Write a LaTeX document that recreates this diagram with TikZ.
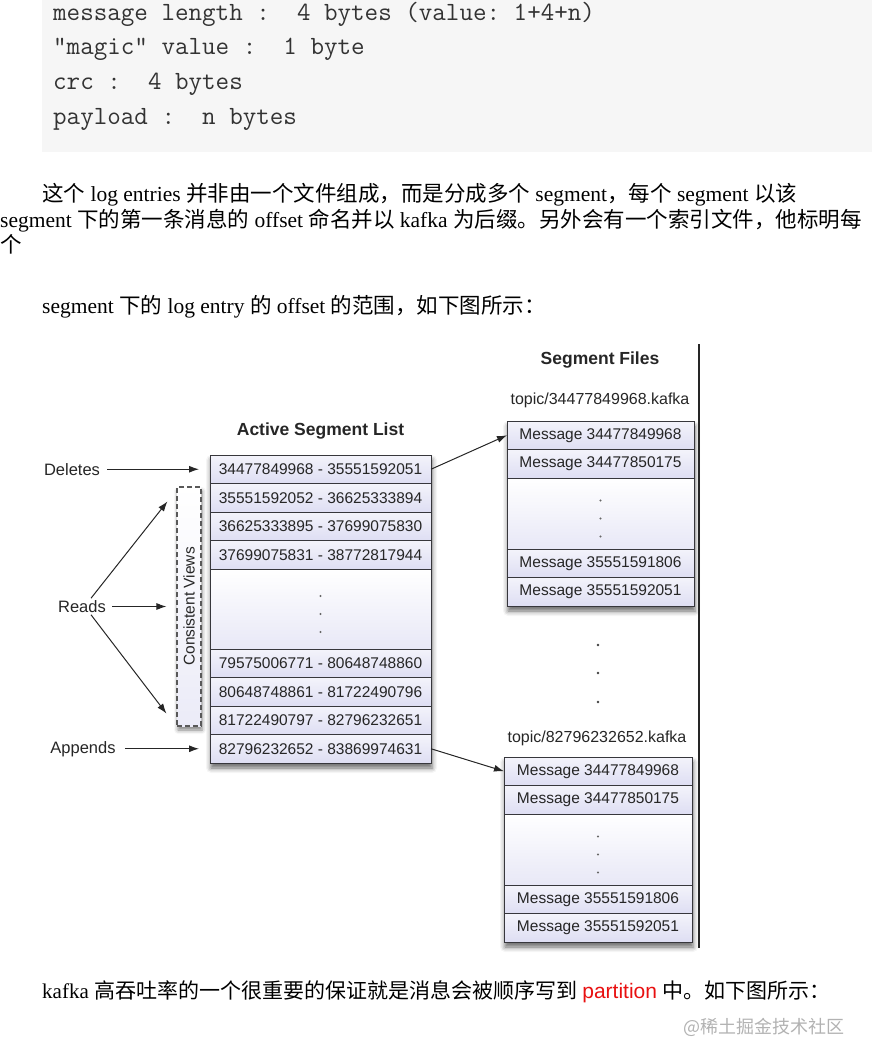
\documentclass[tikz,border=0pt]{standalone}
\usepackage{fontspec}
\setmainfont{Liberation Serif}
\setsansfont{Liberation Sans}
\newfontfamily\cjk{Noto Sans CJK SC}
\usepackage{xcolor}
\usetikzlibrary{arrows.meta,positioning,fit,backgrounds,shadows.blur}
\definecolor{codebg}{RGB}{246,246,246}
\definecolor{seglav}{RGB}{222,222,243}
\definecolor{segline}{RGB}{55,55,60}
\definecolor{linkred}{RGB}{232,16,16}
\definecolor{markgray}{RGB}{178,178,178}
\newcommand{\zh}[1]{{\cjk #1}}
\tikzset{
  segrow/.style={rectangle, draw=segline, line width=0.9pt, top color=seglav!35, bottom color=seglav, minimum width=221pt, minimum height=28.5pt, inner sep=0pt, outer sep=0pt, font=\fontsize{15.5}{16}\sffamily, text=black!85},
  segdots/.style={segrow, top color=white, bottom color=seglav!70, minimum height=80pt},
  filerow/.style={segrow, minimum width=187pt},
  filedots/.style={segdots, minimum width=187pt, minimum height=71pt},
  boxshade/.style={fill=white, inner sep=0pt, blur shadow={shadow xshift=1pt, shadow yshift=-5pt, shadow blur radius=5pt, shadow opacity=60}},
  viewsbox/.style={draw=black!65, dash pattern=on 5pt off 3pt, line width=1.1pt, minimum width=24pt, minimum height=239pt, inner sep=0pt, top color=white, bottom color=seglav!60, blur shadow={shadow xshift=1pt, shadow yshift=-4pt, shadow blur radius=4pt, shadow opacity=50}},
  lbl/.style={font=\fontsize{16.5}{17}\sffamily, text=black!85, inner sep=2pt},
  ttl/.style={font=\fontsize{17.5}{18}\sffamily\bfseries, text=black!85},
  fname/.style={font=\fontsize{16}{17}\sffamily, text=black!85},
  dotmark/.style={fill=black!60},
  parrow/.style={-{Latex[length=10pt,width=7pt]}, line width=1pt, black!85},
  para/.style={anchor=base west, inner sep=0pt, font=\fontsize{21.5}{21.5}\selectfont},
  codeline/.style={anchor=base west, inner sep=0pt, font=\fontsize{26.3}{27}\ttfamily\frenchspacing, text=black!80}
}

\begin{document}
\begin{tikzpicture}[x=1pt, y=-1pt]
\useasboundingbox (0,0) rectangle (872,1064);
\fill[codebg] (42,0) rectangle (872,152);
\node[codeline] (code1) at (53,21) {message length :\ \ 4 bytes (value: 1+4+n)};
\node[codeline] (code2) at (53,55) {"magic" value :\ \ 1 byte};
\node[codeline] (code3) at (53,90) {crc :\ \ 4 bytes};
\node[codeline] (code4) at (53,125) {payload :\ \ n bytes};

\node[para] (par1) at (42,202) {\zh{这个} log entries \zh{并非由一个文件组成，而是分成多个} segment\zh{，每个} segment \zh{以该}};
\node[para] (par2) at (0,228) {segment \zh{下的第一条消息的} offset \zh{命名并以} kafka \zh{为后缀。另外会有一个索引文件，他标明每}};
\node[para] (par3) at (0,253) {\zh{个}};
\node[para] (par4) at (42,313) {segment \zh{下的} log entry \zh{的} offset \zh{的范围，如下图所示：}};

\node[ttl] (acttitle) at (320.5,431) {Active Segment List};
\node[segrow] (act1) at (320.5,469.25) {34477849968 - 35551592051};
\node[segrow, below=0pt of act1] (act2) {35551592052 - 36625333894};
\node[segrow, below=0pt of act2] (act3) {36625333895 - 37699075830};
\node[segrow, below=0pt of act3] (act4) {37699075831 - 38772817944};
\node[segdots, below=0pt of act4] (actdots) {};
\node[segrow, below=0pt of actdots] (act5) {79575006771 - 80648748860};
\node[segrow, below=0pt of act5] (act6) {80648748861 - 81722490796};
\node[segrow, below=0pt of act6] (act7) {81722490797 - 82796232651};
\node[segrow, below=0pt of act7] (act8) {82796232652 - 83869974631};

\node[viewsbox, label={[rotate=90, font=\fontsize{15.5}{16}\sffamily, text=black!85]center:Consistent Views}] (views) at (189,606.5) {};

\node[lbl] (deletes) at (72,469.25) {Deletes};
\node[lbl] (reads) at (82,606.5) {Reads};
\node[lbl] (appends) at (83,748.75) {Appends};
\coordinate (readup) at ([xshift=-9pt, yshift=-15pt]views.north west);
\coordinate (readdown) at ([xshift=-10pt, yshift=13pt]views.south west);

\node[ttl] (filestitle) at (600,360) {Segment Files};
\node[fname] (topic1) at (600,400) {topic/34477849968.kafka};
\node[filerow] (fa1) at (600.5,435.25) {Message 34477849968};
\node[filerow, below=0pt of fa1] (fa2) {Message 34477850175};
\node[filedots, below=0pt of fa2] (fadots) {};
\node[filerow, below=0pt of fadots] (fa3) {Message 35551591806};
\node[filerow, below=0pt of fa3] (fa4) {Message 35551592051};

\node[fname] (topic2) at (597,738) {topic/82796232652.kafka};
\node[filerow, minimum width=188pt] (fb1) at (598,771.25) {Message 34477849968};
\node[filerow, minimum width=188pt, below=0pt of fb1] (fb2) {Message 34477850175};
\node[filedots, minimum width=188pt, below=0pt of fb2] (fbdots) {};
\node[filerow, minimum width=188pt, below=0pt of fbdots] (fb3) {Message 35551591806};
\node[filerow, minimum width=188pt, below=0pt of fb3] (fb4) {Message 35551592051};

\begin{scope}[on background layer]
\node[boxshade, fit=(act1)(act8)] {};
\node[boxshade, fit=(fa1)(fa4)] {};
\node[boxshade, fit=(fb1)(fb4)] {};
\end{scope}

\foreach \d in {13,-5,-23} {
  \fill[dotmark] ([yshift=\d pt]actdots.center) circle (1.1pt);
  \fill[dotmark] ([yshift=\d pt]fadots.center) circle (1.1pt);
  \fill[dotmark] ([yshift=\d pt]fbdots.center) circle (1.1pt);
}
\foreach \y in {645,673,702}
  \fill[black!75] (598,\y) circle (1.4pt);

\draw[line width=1.2pt, black!85] (699,344) -- (699,948);

\draw[parrow, shorten <=5pt, shorten >=11pt] (deletes) -- (act1);
\draw[parrow, shorten <=4pt, shorten >=10pt] (reads) -- (views);
\draw[parrow] ([xshift=9pt]reads.north) -- (readup);
\draw[parrow] ([xshift=9pt]reads.south) -- (readdown);
\draw[parrow, shorten <=7pt, shorten >=11pt] (appends) -- (act8);
\draw[parrow] (act1.east) -- (fa1.west);
\draw[parrow] (act8.east) -- (fb1.west);

\node[para, font=\fontsize{21}{21}\selectfont] (par5) at (42,998) {kafka \zh{高吞吐率的一个很重要的保证就是消息会被顺序写到} {\sffamily\color{linkred}partition} \zh{中。如下图所示：}};
\node[anchor=base west, inner sep=0pt, font=\cjk\fontsize{18}{18}\selectfont, text=markgray] (mark) at (683,1033) {@稀土掘金技术社区};
\end{tikzpicture}
\end{document}
